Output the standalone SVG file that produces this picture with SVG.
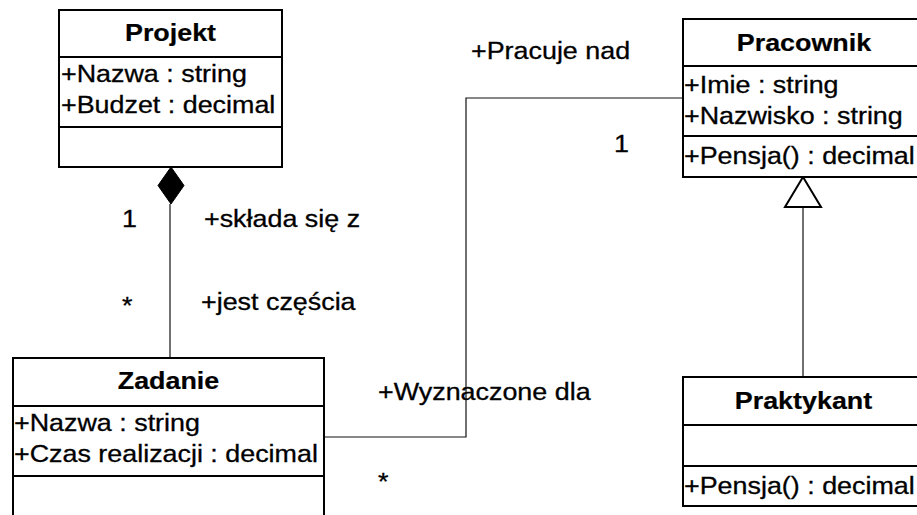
<svg xmlns="http://www.w3.org/2000/svg" width="917" height="515" viewBox="0 0 917 515">
  <style>
    .box { fill: #ffffff; stroke: #000000; stroke-width: 2; }
    .sep { stroke: #000000; stroke-width: 2; fill: none; }
    .edge { stroke: #111111; stroke-width: 1.2; fill: none; }
    text { font-family: "Liberation Sans", Arial, sans-serif; font-size: 24px; fill: #000000; stroke: #000000; stroke-width: 0.3; }
    .title { font-weight: bold; text-anchor: middle; stroke-width: 0.2; }
  </style>
  <rect width="917" height="515" fill="#ffffff"/>

  <!-- connectors -->
  <g id="connectors">
    <!-- composition Projekt <>- Zadanie -->
    <line class="edge" x1="170" y1="204" x2="170" y2="358"/>
    <polygon points="171,167 184,185.5 171,204 158,185.5" fill="#000000" stroke="#000000" stroke-width="1"/>
    <!-- association Zadanie - Pracownik -->
    <polyline class="edge" points="324,437 466,437 466,98 683,98"/>
    <!-- generalization Praktykant -|> Pracownik -->
    <line class="edge" x1="803" y1="207" x2="803" y2="377"/>
    <polygon points="803,177 785,207 821,207" fill="#ffffff" stroke="#000000" stroke-width="2"/>

    <!-- role names and multiplicities -->
    <text transform="translate(122,227) scale(1.12,1)">1</text>
    <text transform="translate(204,227) scale(1.12,1)">+składa się z</text>
    <text transform="translate(122,314) scale(1.12,1)">*</text>
    <text transform="translate(201,310) scale(1.12,1)">+jest częścia</text>
    <text transform="translate(471,59) scale(1.12,1)">+Pracuje nad</text>
    <text transform="translate(614,152) scale(1.12,1)">1</text>
    <text transform="translate(378,400) scale(1.12,1)">+Wyznaczone dla</text>
    <text transform="translate(378,490) scale(1.12,1)">*</text>
  </g>

  <!-- Projekt -->
  <g id="projekt">
    <rect class="box" x="59" y="10" width="223" height="157"/>
    <line class="sep" x1="59" y1="57" x2="282" y2="57"/>
    <line class="sep" x1="59" y1="127" x2="282" y2="127"/>
    <text class="title" transform="translate(170.5,41) scale(1.12,1)">Projekt</text>
    <text transform="translate(61,82) scale(1.12,1)">+Nazwa : string</text>
    <text transform="translate(61,113) scale(1.12,1)">+Budzet : decimal</text>
  </g>

  <!-- Zadanie -->
  <g id="zadanie">
    <rect class="box" x="13" y="358" width="311" height="180"/>
    <line class="sep" x1="13" y1="406" x2="324" y2="406"/>
    <line class="sep" x1="13" y1="476" x2="324" y2="476"/>
    <text class="title" transform="translate(168.5,389) scale(1.12,1)">Zadanie</text>
    <text transform="translate(14,431) scale(1.12,1)">+Nazwa : string</text>
    <text transform="translate(14,462) scale(1.12,1)">+Czas realizacji : decimal</text>
  </g>

  <!-- Pracownik -->
  <g id="pracownik">
    <rect class="box" x="683" y="19" width="242" height="158"/>
    <line class="sep" x1="683" y1="66" x2="925" y2="66"/>
    <line class="sep" x1="683" y1="136" x2="925" y2="136"/>
    <text class="title" transform="translate(804,51) scale(1.12,1)">Pracownik</text>
    <text transform="translate(684,93) scale(1.12,1)">+Imie : string</text>
    <text transform="translate(684,124) scale(1.12,1)">+Nazwisko : string</text>
    <text transform="translate(684,164) scale(1.12,1)">+Pensja() : decimal</text>
  </g>

  <!-- Praktykant -->
  <g id="praktykant">
    <rect class="box" x="683" y="377" width="242" height="129"/>
    <line class="sep" x1="683" y1="425" x2="925" y2="425"/>
    <line class="sep" x1="683" y1="466" x2="925" y2="466"/>
    <text class="title" transform="translate(803.5,409) scale(1.12,1)">Praktykant</text>
    <text transform="translate(684,494) scale(1.12,1)">+Pensja() : decimal</text>
  </g>
</svg>
